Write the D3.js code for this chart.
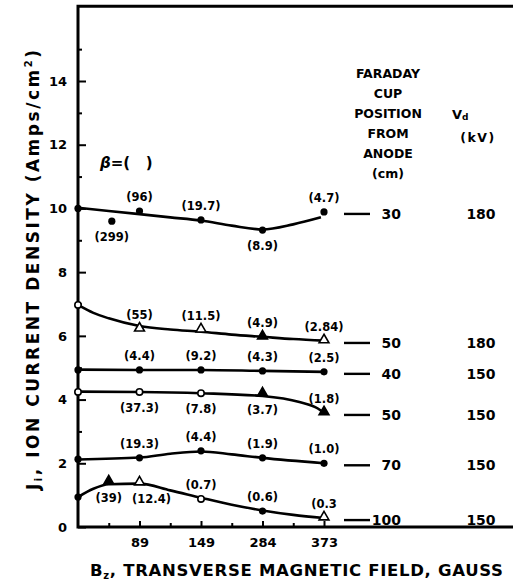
<!DOCTYPE html>
<html>
<head>
<meta charset="utf-8">
<script src="https://cdn.jsdelivr.net/npm/d3@7/dist/d3.min.js"></script>
<style>
  body { margin: 0; background: #fff; }
  svg { font-family: "DejaVu Sans", sans-serif; font-weight: bold; }
  .tick text { font-size: 13px; font-weight: bold; font-family: "DejaVu Sans", sans-serif; }
  .tick line { stroke: #000; stroke-width: 2; }
  .fit { fill: none; stroke: #000; stroke-width: 2.6; }
  .plabel { font-size: 11.5px; }
  .hdr { font-size: 12.5px; }
  .num { font-size: 14px; }
</style>
</head>
<body>
<div id="chart"></div>
<script>
// field values at the equally spaced x positions 1..4 (0 = no field)
var fieldTicks = [89, 149, 284, 373];
var cupPosition = [30, 50, 40, 50, 70, 100];
var driveVoltage = [180, 180, 150, 150, 150, 150];
var headerLines = ["FARADAY", "CUP", "POSITION", "FROM", "ANODE", "(cm)"];

// measured points: [field position, J_i, beta]
var run1 = [[0, 10.0, ""], [0.55, 9.6, "(299)"], [1, 9.92, "(96)"], [2, 9.64, "(19.7)"], [3, 9.32, "(8.9)"], [4, 9.89, "(4.7)"]];
var run2 = [[0, 6.97, ""], [1, 6.21, "(55)"], [2, 6.18, "(11.5)"], [3, 5.96, "(4.9)"], [4, 5.84, "(2.84)"]];
var run3 = [[0, 4.93, ""], [1, 4.93, "(4.4)"], [2, 4.93, "(9.2)"], [3, 4.9, "(4.3)"], [4, 4.87, "(2.5)"]];
var run4 = [[0, 4.24, ""], [1, 4.24, "(37.3)"], [2, 4.2, "(7.8)"], [3, 4.17, "(3.7)"], [4, 3.58, "(1.8)"]];
var run5 = [[0, 2.13, ""], [1, 2.17, "(19.3)"], [2, 2.39, "(4.4)"], [3, 2.17, "(1.9)"], [4, 2.0, "(1.0)"]];
var run6 = [[0, 0.94, ""], [0.5, 1.41, "(39)"], [1, 1.38, "(12.4)"], [2, 0.88, "(0.7)"], [3, 0.5, "(0.6)"], [4, 0.28, "(0.3"]];

// faired curves through the points
var fit1 = [[0, 10.02], [0.5, 9.92], [1, 9.82], [1.5, 9.72], [2, 9.62], [2.5, 9.46], [3, 9.34], [3.5, 9.5], [3.95, 9.72]];
var fit2 = [[0, 6.97], [0.25, 6.72], [0.5, 6.55], [1, 6.31], [1.5, 6.2], [2, 6.13], [2.5, 6.04], [3, 5.97], [3.5, 5.9], [4, 5.85]];
var fit3 = [[0, 4.94], [1, 4.93], [2, 4.93], [3, 4.9], [4, 4.87]];
var fit4 = [[0, 4.25], [1, 4.24], [2, 4.2], [3, 4.11], [3.6, 3.92], [3.9, 3.72], [4, 3.58]];
var fit5 = [[0, 2.12], [1, 2.18], [1.5, 2.3], [2, 2.37], [2.5, 2.28], [3, 2.17], [4, 2.0]];
var fit6 = [[0, 0.94], [0.25, 1.2], [0.5, 1.34], [1, 1.36], [1.5, 1.15], [2, 0.92], [2.5, 0.7], [3, 0.52], [3.5, 0.38], [4, 0.28]];

var runs = [run1, run2, run3, run4, run5, run6];
var fits = [fit1, fit2, fit3, fit4, fit5, fit6];

// marker kind and label side for each point
var marks = [
  ["dot", "dot", "dot", "dot", "dot", "dot"],
  ["ocirc", "otri", "otri", "tri", "otri"],
  ["dot", "dot", "dot", "dot", "dot"],
  ["ocirc", "ocirc", "ocirc", "tri", "tri"],
  ["dot", "dot", "dot", "dot", "dot"],
  ["dot", "tri", "otri", "ocirc", "dot", "otri"]
];
var sides = [
  ["", "b", "a", "a", "b", "a"],
  ["", "a", "a", "a", "a"],
  ["", "a", "a", "a", "a"],
  ["", "b", "b", "b", "a"],
  ["", "a", "a", "a", "a"],
  ["", "b", "br", "a", "a", "a"]
];

var width = 513, height = 582;

var x = d3.scaleLinear().domain([0, 4]).range([78, 324]);
var y = d3.scaleLinear().domain([0, 14]).range([527, 81]);

var svg = d3.select("#chart").append("svg")
    .attr("width", width)
    .attr("height", height);

// frame: left axis, top line, bottom axis
svg.append("path")
    .attr("d", "M" + (width) + "," + y(16.35) + "H" + x(0) + "V" + y(0) + "H" + width)
    .attr("fill", "none")
    .attr("stroke", "#000")
    .attr("stroke-width", 3);

var yAxis = d3.axisLeft(y)
    .tickValues([0, 2, 4, 6, 8, 10, 12, 14])
    .tickSizeInner(-8).tickSizeOuter(0).tickPadding(11);
var gy = svg.append("g").attr("transform", "translate(" + x(0) + ",0)").call(yAxis);
gy.select(".domain").remove();

var yMinor = d3.axisLeft(y)
    .tickValues([1, 3, 5, 7, 9, 11, 13, 15])
    .tickSizeInner(-4).tickSizeOuter(0).tickFormat("");
svg.append("g").attr("transform", "translate(" + x(0) + ",0)").call(yMinor)
    .select(".domain").remove();

var xAxis = d3.axisBottom(x)
    .tickValues([1, 2, 3, 4])
    .tickFormat(function(i) { return fieldTicks[i - 1]; })
    .tickSizeInner(-6).tickSizeOuter(0).tickPadding(11);
var gx = svg.append("g").attr("transform", "translate(0," + y(0) + ")").call(xAxis);
gx.select(".domain").remove();

var xMinor = d3.axisBottom(x)
    .tickValues([0.5, 1.5, 2.5, 3.5])
    .tickSizeInner(-4).tickSizeOuter(0).tickFormat("");
svg.append("g").attr("transform", "translate(0," + y(0) + ")").call(xMinor)
    .select(".domain").remove();

// curves
var line = d3.line()
    .x(function(d) { return x(d[0]); })
    .y(function(d) { return y(d[1]); })
    .curve(d3.curveMonotoneX);

fits.forEach(function(f) {
  svg.append("path").datum(f).attr("class", "fit").attr("d", line);
});

// markers and beta labels
var tri = d3.symbol().type(d3.symbolTriangle).size(42);

runs.forEach(function(run, s) {
  run.forEach(function(p, i) {
    var px = x(p[0]), py = y(p[1]), kind = marks[s][i];
    if (kind == "dot") {
      svg.append("circle").attr("cx", px).attr("cy", py).attr("r", 3.6).attr("fill", "#000");
    } else if (kind == "ocirc") {
      svg.append("circle").attr("cx", px).attr("cy", py).attr("r", 3.2)
          .attr("fill", "#fff").attr("stroke", "#000").attr("stroke-width", 1.6);
    } else {
      svg.append("path").attr("d", tri)
          .attr("transform", "translate(" + px + "," + (py - 1) + ")")
          .attr("fill", kind == "tri" ? "#000" : "#fff")
          .attr("stroke", "#000").attr("stroke-width", 1.6);
    }
    if (p[2]) {
      var side = sides[s][i];
      svg.append("text").attr("class", "plabel")
          .attr("x", px + (side == "br" ? 12 : 0))
          .attr("y", py + (side == "a" ? -14 : 16))
          .attr("text-anchor", "middle")
          .attr("dominant-baseline", "central")
          .text(p[2]);
    }
  });

  // right hand key: cup position and voltage
  var last = run[run.length - 1];
  var ly = y(last[1]) + 2;
  svg.append("line").attr("x1", 344).attr("x2", 370).attr("y1", ly).attr("y2", ly)
      .attr("stroke", "#000").attr("stroke-width", 2.4);
  svg.append("text").attr("class", "num").attr("x", 401).attr("y", ly)
      .attr("text-anchor", "end").attr("dominant-baseline", "central")
      .text(cupPosition[s]);
  svg.append("text").attr("class", "num").attr("x", 481).attr("y", ly)
      .attr("text-anchor", "middle").attr("dominant-baseline", "central")
      .text(driveVoltage[s]);
});

// key headers
headerLines.forEach(function(t, i) {
  svg.append("text").attr("class", "hdr").attr("x", 388).attr("y", 73 + i * 20)
      .attr("text-anchor", "middle").attr("dominant-baseline", "central").text(t);
});
var vd = svg.append("text").attr("class", "hdr").attr("x", 452).attr("y", 114)
    .attr("dominant-baseline", "central").style("font-size", "13px");
vd.append("tspan").text("V");
vd.append("tspan").attr("dy", 3).style("font-size", "9px").text("d");
svg.append("text").attr("class", "hdr").attr("x", 478).attr("y", 137)
    .attr("text-anchor", "middle").attr("dominant-baseline", "central")
    .attr("letter-spacing", 1.5).text("(kV)");

svg.append("text").attr("x", 100).attr("y", 168)
    .style("font-size", "15px")
    .html("<tspan font-style='italic'>β</tspan>=(&#160;&#160;&#160;)");

// axis titles
var xt = svg.append("text").attr("x", 90).attr("y", 576)
    .attr("textLength", 413).attr("lengthAdjust", "spacing")
    .style("font-size", "16.5px");
xt.append("tspan").text("B");
xt.append("tspan").attr("dy", 3).style("font-size", "10px").text("z");
xt.append("tspan").attr("dy", -3).text(", TRANSVERSE MAGNETIC FIELD, GAUSS");

var yt = svg.append("text")
    .attr("transform", "translate(39,490) rotate(-90)")
    .attr("textLength", 440).attr("lengthAdjust", "spacing")
    .style("font-size", "17px");
yt.append("tspan").text("J");
yt.append("tspan").attr("dy", 3).style("font-size", "10px").text("i");
yt.append("tspan").attr("dy", -3).text(", ION CURRENT DENSITY (Amps/cm");
yt.append("tspan").attr("dy", -7).style("font-size", "10px").text("2");
yt.append("tspan").attr("dy", 7).text(")");
</script>
</body>
</html>
